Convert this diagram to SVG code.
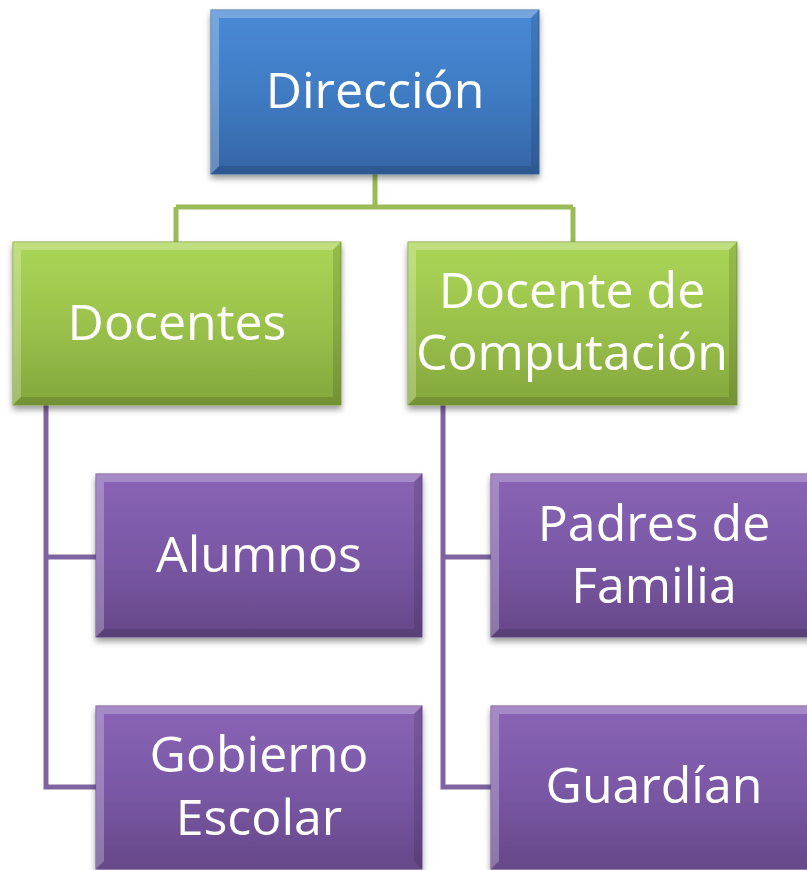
<svg xmlns="http://www.w3.org/2000/svg" width="807" height="870" viewBox="0 0 807 870">
<defs>
<linearGradient id="gBlue" x1="0" y1="0" x2="0" y2="1"><stop offset="0" stop-color="#4a8ad6"/><stop offset="0.5" stop-color="#3f7cc4"/><stop offset="1" stop-color="#3565a6"/></linearGradient>
<linearGradient id="gGreen" x1="0" y1="0" x2="0" y2="1"><stop offset="0" stop-color="#abd656"/><stop offset="0.5" stop-color="#9bc24c"/><stop offset="1" stop-color="#84a63c"/></linearGradient>
<linearGradient id="gPurple" x1="0" y1="0" x2="0" y2="1"><stop offset="0" stop-color="#8a64b6"/><stop offset="0.5" stop-color="#7a58a6"/><stop offset="1" stop-color="#664888"/></linearGradient>
<filter id="sh" x="-10%" y="-10%" width="120%" height="125%"><feGaussianBlur in="SourceAlpha" stdDeviation="3"/><feOffset dx="0" dy="4"/><feComponentTransfer><feFuncA type="linear" slope="0.4"/></feComponentTransfer><feMerge><feMergeNode/><feMergeNode in="SourceGraphic"/></feMerge></filter>
</defs>
<style>
.t{font-family:"Open Sans","Noto Sans","Liberation Sans",sans-serif;font-size:50px;fill:#ffffff;text-anchor:middle}
.hi{fill:#ffffff;opacity:0.25}
.lo{fill:#000000;opacity:0.12}
.gl{stroke:#9bbb59;stroke-width:5;fill:none}
.pl{stroke:#8064a2;stroke-width:5;fill:none}
</style>
<g id="connectors">
<path class="gl" d="M375 174 V207 M176 207 H573 M176 207 V242 M573 207 V242"/>
<path class="pl" d="M46 405 V787 H96 M46 557 H96"/>
<path class="pl" d="M443 405 V787 H491 M443 557 H491"/>
</g>
<g id="direccion" filter="url(#sh)">
<rect x="211" y="10" width="328" height="164" fill="url(#gBlue)" stroke="#3a6aa6" stroke-width="1"/>
<polygon class="hi" points="211,10 539,10 531,18 219,18"/>
<polygon class="hi" points="211,10 219,18 219,166 211,174" opacity="0.1"/>
<polygon class="lo" points="539,10 539,174 531,166 531,18"/>
<polygon class="lo" points="211,174 539,174 531,166 219,166"/>
<text class="t" x="375" y="108">Dirección</text>
</g>
<g id="docentes" filter="url(#sh)">
<rect x="13" y="242" width="328" height="163" fill="url(#gGreen)" stroke="#86a63e" stroke-width="1"/>
<polygon class="hi" points="13,242 341,242 333,250 21,250"/>
<polygon class="hi" points="13,242 21,250 21,397 13,405" opacity="0.1"/>
<polygon class="lo" points="341,242 341,405 333,397 333,250"/>
<polygon class="lo" points="13,405 341,405 333,397 21,397"/>
<text class="t" x="177" y="340">Docentes</text>
</g>
<g id="docente-computacion" filter="url(#sh)">
<rect x="408" y="242" width="329" height="163" fill="url(#gGreen)" stroke="#86a63e" stroke-width="1"/>
<polygon class="hi" points="408,242 737,242 729,250 416,250"/>
<polygon class="hi" points="408,242 416,250 416,397 408,405" opacity="0.1"/>
<polygon class="lo" points="737,242 737,405 729,397 729,250"/>
<polygon class="lo" points="408,405 737,405 729,397 416,397"/>
<text class="t" x="572" y="308">Docente de</text>
<text class="t" x="572" y="370">Computación</text>
</g>
<g id="alumnos" filter="url(#sh)">
<rect x="96" y="474" width="326" height="163" fill="url(#gPurple)" stroke="#6a4c8e" stroke-width="1"/>
<polygon class="hi" points="96,474 422,474 414,482 104,482"/>
<polygon class="hi" points="96,474 104,482 104,629 96,637" opacity="0.1"/>
<polygon class="lo" points="422,474 422,637 414,629 414,482"/>
<polygon class="lo" points="96,637 422,637 414,629 104,629"/>
<text class="t" x="259" y="572">Alumnos</text>
</g>
<g id="gobierno-escolar" filter="url(#sh)">
<rect x="96" y="706" width="326" height="163" fill="url(#gPurple)" stroke="#6a4c8e" stroke-width="1"/>
<polygon class="hi" points="96,706 422,706 414,714 104,714"/>
<polygon class="hi" points="96,706 104,714 104,861 96,869" opacity="0.1"/>
<polygon class="lo" points="422,706 422,869 414,861 414,714"/>
<text class="t" x="259" y="772">Gobierno</text>
<text class="t" x="259" y="835">Escolar</text>
</g>
<g id="padres-familia" filter="url(#sh)">
<rect x="491" y="474" width="328" height="163" fill="url(#gPurple)" stroke="#6a4c8e" stroke-width="1"/>
<polygon class="hi" points="491,474 819,474 811,482 499,482"/>
<polygon class="hi" points="491,474 499,482 499,629 491,637" opacity="0.1"/>
<polygon class="lo" points="491,637 819,637 811,629 499,629"/>
<text class="t" x="654" y="541">Padres de</text>
<text class="t" x="654" y="603">Familia</text>
</g>
<g id="guardian" filter="url(#sh)">
<rect x="491" y="706" width="328" height="163" fill="url(#gPurple)" stroke="#6a4c8e" stroke-width="1"/>
<polygon class="hi" points="491,706 819,706 811,714 499,714"/>
<polygon class="hi" points="491,706 499,714 499,861 491,869" opacity="0.1"/>
<text class="t" x="654" y="803">Guardían</text>
</g>
</svg>
